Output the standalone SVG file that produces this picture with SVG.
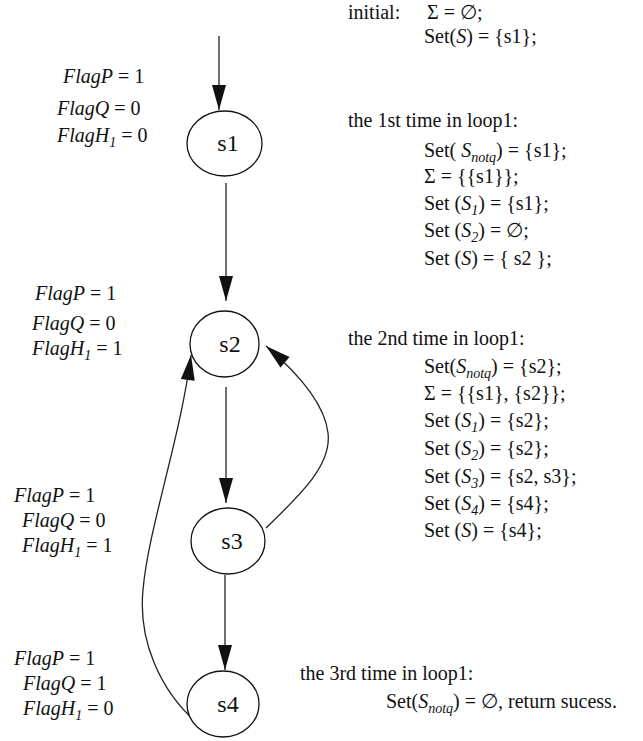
<svg xmlns="http://www.w3.org/2000/svg" width="643" height="741" viewBox="0 0 643 741">
  <style>
    text { font-family: "Liberation Serif", "DejaVu Serif", serif; fill: #111; }
    .flag { font-size: 20px; font-style: italic; }
    .up { font-style: normal; }
    .it { font-style: italic; }
    .sub { font-size: 14px; font-style: italic; }
    .note { font-size: 20px; }
    .lbl { font-size: 24px; text-anchor: middle; }
    .node { fill: #fff; stroke: #111; stroke-width: 1.3; }
    .edge { fill: none; stroke: #222; stroke-width: 1.3; marker-end: url(#head); }
  </style>
  <defs>
    <marker id="head" markerUnits="userSpaceOnUse" markerWidth="26" markerHeight="14" refX="25" refY="7" orient="auto" overflow="visible">
      <path d="M0,0 L25,7 L0,14 z" fill="#111"/>
    </marker>
  </defs>
  <rect width="643" height="741" fill="#fff"/>

  <!-- transitions -->
  <g id="connectors">
    <path class="edge" d="M219,36 V110"/>
    <path class="edge" d="M226,183 V301"/>
    <path class="edge" d="M226,387 V503"/>
    <path class="edge" d="M225,575 V670"/>
    <path class="edge" d="M266,528 C300,495 332,465 328,433 C325,405 300,375 266,346"/>
    <path class="edge" d="M196,722 C160,690 138,640 143,590 C148,530 180,440 191,355"/>
  </g>

  <!-- states -->
  <g id="s1">
    <ellipse class="node" cx="224.5" cy="143.5" rx="37.5" ry="32.5"/>
    <text class="lbl" x="228" y="151">s1</text>
  </g>
  <g id="s2">
    <ellipse class="node" cx="224.5" cy="344" rx="34.5" ry="33"/>
    <text class="lbl" x="230" y="352">s2</text>
  </g>
  <g id="s3">
    <ellipse class="node" cx="228" cy="541" rx="37" ry="33"/>
    <text class="lbl" x="232" y="549">s3</text>
  </g>
  <g id="s4">
    <ellipse class="node" cx="223" cy="704" rx="36" ry="33"/>
    <text class="lbl" x="228" y="712">s4</text>
  </g>

  <!-- flag values beside each state -->
  <g id="flags-s1">
    <text class="flag" x="63" y="83">FlagP<tspan class="up"> = 1</tspan></text>
    <text class="flag" x="57" y="115">FlagQ<tspan class="up"> = 0</tspan></text>
    <text class="flag" x="57" y="142">FlagH<tspan class="sub" dy="5">1</tspan><tspan class="up" dy="-5"> = 0</tspan></text>
  </g>
  <g id="flags-s2">
    <text class="flag" x="35" y="300">FlagP<tspan class="up"> = 1</tspan></text>
    <text class="flag" x="32" y="330">FlagQ<tspan class="up"> = 0</tspan></text>
    <text class="flag" x="32" y="355">FlagH<tspan class="sub" dy="5">1</tspan><tspan class="up" dy="-5"> = 1</tspan></text>
  </g>
  <g id="flags-s3">
    <text class="flag" x="14" y="502">FlagP<tspan class="up"> = 1</tspan></text>
    <text class="flag" x="22" y="527">FlagQ<tspan class="up"> = 0</tspan></text>
    <text class="flag" x="22" y="552">FlagH<tspan class="sub" dy="5">1</tspan><tspan class="up" dy="-5"> = 1</tspan></text>
  </g>
  <g id="flags-s4">
    <text class="flag" x="14" y="665">FlagP<tspan class="up"> = 1</tspan></text>
    <text class="flag" x="23" y="690">FlagQ<tspan class="up"> = 1</tspan></text>
    <text class="flag" x="23" y="715">FlagH<tspan class="sub" dy="5">1</tspan><tspan class="up" dy="-5"> = 0</tspan></text>
  </g>

  <!-- algorithm trace -->
  <g id="trace-initial" class="note">
    <text class="note" x="348" y="19">initial:</text>
    <text class="note" x="427" y="19">Σ = ∅;</text>
    <text class="note" x="424" y="43">Set(<tspan class="it">S</tspan>) = {s1};</text>
  </g>
  <g id="trace-loop1-first">
    <text class="note" x="348" y="127">the 1st time in loop1:</text>
    <text class="note" x="424" y="157">Set( <tspan class="it">S</tspan><tspan class="sub" dy="5">notq</tspan><tspan dy="-5">) = {s1};</tspan></text>
    <text class="note" x="424" y="183">Σ = {{s1}};</text>
    <text class="note" x="424" y="210">Set (<tspan class="it">S</tspan><tspan class="sub" dy="5">1</tspan><tspan dy="-5">) = {s1};</tspan></text>
    <text class="note" x="424" y="237">Set (<tspan class="it">S</tspan><tspan class="sub" dy="5">2</tspan><tspan dy="-5">) = ∅;</tspan></text>
    <text class="note" x="424" y="265">Set (<tspan class="it">S</tspan>) = { s2 };</text>
  </g>
  <g id="trace-loop1-second">
    <text class="note" x="348" y="345">the 2nd time in loop1:</text>
    <text class="note" x="424" y="373">Set(<tspan class="it">S</tspan><tspan class="sub" dy="5">notq</tspan><tspan dy="-5">) = {s2};</tspan></text>
    <text class="note" x="424" y="400">Σ = {{s1}, {s2}};</text>
    <text class="note" x="424" y="427">Set (<tspan class="it">S</tspan><tspan class="sub" dy="5">1</tspan><tspan dy="-5">) = {s2};</tspan></text>
    <text class="note" x="424" y="455">Set (<tspan class="it">S</tspan><tspan class="sub" dy="5">2</tspan><tspan dy="-5">) = {s2};</tspan></text>
    <text class="note" x="424" y="483">Set (<tspan class="it">S</tspan><tspan class="sub" dy="5">3</tspan><tspan dy="-5">) = {s2, s3};</tspan></text>
    <text class="note" x="424" y="510">Set (<tspan class="it">S</tspan><tspan class="sub" dy="5">4</tspan><tspan dy="-5">) = {s4};</tspan></text>
    <text class="note" x="424" y="537">Set (<tspan class="it">S</tspan>) = {s4};</text>
  </g>
  <g id="trace-loop1-third">
    <text class="note" x="300" y="680">the 3rd time in loop1:</text>
    <text class="note" x="386" y="708">Set(<tspan class="it">S</tspan><tspan class="sub" dy="5">notq</tspan><tspan dy="-5">) = ∅, return sucess.</tspan></text>
  </g>
</svg>
